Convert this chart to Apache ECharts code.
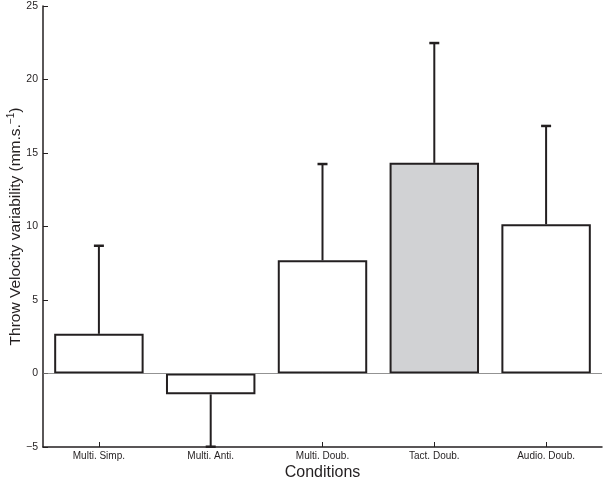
<!DOCTYPE html>
<html>
<head>
<meta charset="utf-8">
<script src="https://cdn.jsdelivr.net/npm/echarts@6/dist/echarts.min.js"></script>
<style>html,body{margin:0;padding:0;background:#fff;}#c{width:605px;height:480px;}</style>
</head>
<body>
<div id="c"></div>
<script>
const categories = ['Multi. Simp.', 'Multi. Anti.', 'Multi. Doub.', 'Tact. Doub.', 'Audio. Doub.'];
const means = [2.7, -1.42, 7.7, 14.33, 10.15];
const errorEnds = [8.69, -4.98, 14.25, 22.48, 16.84];
const barFills = ['#ffffff', '#ffffff', '#ffffff', '#d1d2d4', '#ffffff'];
const yTicks = [-5, 0, 5, 10, 15, 20, 25];

const ink = '#231f20';
const chart = echarts.init(document.getElementById('c'), null, {renderer: 'canvas'});
const font = 'Liberation Sans, Arial, Helvetica, sans-serif';

chart.setOption({
  animation: false,
  grid: {left: 43, top: 6, right: 3, bottom: 33, containLabel: false, outerBoundsMode: 'none'},
  xAxis: {
    type: 'category',
    data: categories,
    axisLine: {show: true, onZero: false, lineStyle: {color: ink, width: 1.5}},
    axisTick: {show: true, inside: true, alignWithLabel: true, length: 5, lineStyle: {color: ink, width: 1}},
    axisLabel: {color: ink, fontSize: 10, fontFamily: font, margin: 4},
    name: 'Conditions',
    nameLocation: 'middle',
    nameGap: 18,
    nameMoveOverlap: false,
    nameTextStyle: {color: ink, fontSize: 16, fontFamily: font, verticalAlign: 'top'}
  },
  yAxis: {
    type: 'value',
    min: -5, max: 25, interval: 5,
    axisLine: {show: true, lineStyle: {color: ink, width: 1.5}},
    axisTick: {show: true, inside: true, length: 5, lineStyle: {color: ink, width: 1}},
    splitLine: {show: false},
    axisLabel: {color: ink, fontSize: 10.5, fontFamily: font, margin: 5,
      formatter: v => yTicks.includes(v) ? String(v).replace('-', '\u2212') : ''},
    name: 'Throw Velocity variability (mm.s.{sup|\u22121})',
    nameLocation: 'middle',
    nameGap: 18,
    nameMoveOverlap: false,
    nameRotate: 90,
    nameTextStyle: {color: ink, fontSize: 15.5, fontFamily: font, verticalAlign: 'bottom',
      rich: {sup: {fontSize: 10, fontFamily: font, color: ink, verticalAlign: 'top', padding: [0, 0, 9, 0]}}}
  },
  series: [
    {
      type: 'bar',
      barWidth: '80%',
      data: means.map((v, i) => ({value: v, itemStyle: {color: barFills[i]}})),
      itemStyle: {borderColor: ink, borderWidth: 2},
      markLine: {
        silent: true, symbol: 'none', label: {show: false},
        lineStyle: {color: '#777', width: 0.8, type: 'solid'},
        data: [{yAxis: 0}]
      },
      z: 2
    },
    {
      type: 'custom',
      z: 3,
      data: means.map((m, i) => [i, m, errorEnds[i]]),
      renderItem: function (params, api) {
        const x = api.value(0);
        const p0 = api.coord([x, api.value(1)]);
        const p1 = api.coord([x, api.value(2)]);
        const hw = 5;
        const style = {stroke: ink, lineWidth: 2};
        return {
          type: 'group',
          children: [
            {type: 'line', shape: {x1: p0[0], y1: p0[1], x2: p1[0], y2: p1[1]}, style: style},
            {type: 'line', shape: {x1: p1[0] - hw, y1: p1[1], x2: p1[0] + hw, y2: p1[1]}, style: {stroke: ink, lineWidth: 2.5}}
          ]
        };
      }
    }
  ]
});
</script>
</body>
</html>
